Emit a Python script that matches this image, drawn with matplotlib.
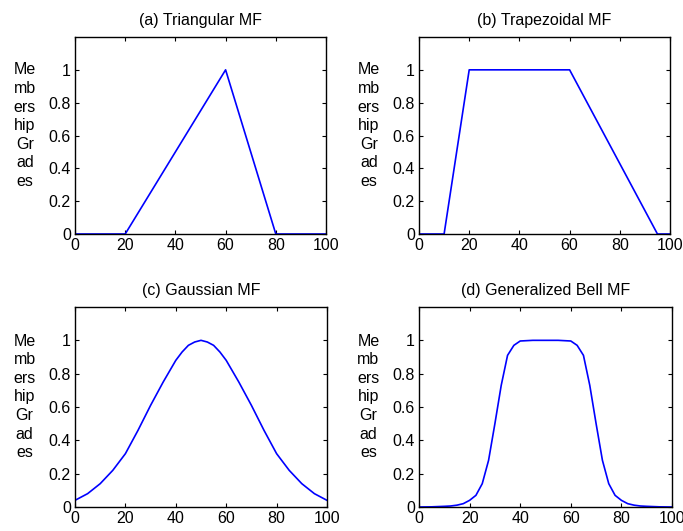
import numpy as np
import matplotlib.pyplot as plt

plt.rcParams['font.family'] = ['Liberation Sans', 'DejaVu Sans']

# membership function samples (x in 0..100)
tri_x = [0, 20, 60, 80, 100]
tri_y = [0, 0, 1, 0, 0]

trap_x = [0, 10, 20, 60, 95, 100]
trap_y = [0, 0, 1, 1, 0, 0]

gauss_x = [0, 5, 10, 15, 20, 25, 30, 35, 40, 42.5, 45, 47.5, 50,
           52.5, 55, 57.5, 60, 65, 70, 75, 80, 85, 90, 95, 100]
gauss_y = [0.04, 0.08, 0.14, 0.22, 0.32, 0.46, 0.61, 0.75, 0.88, 0.93, 0.97, 0.99, 1.0,
           0.99, 0.97, 0.93, 0.88, 0.75, 0.61, 0.46, 0.32, 0.22, 0.14, 0.08, 0.04]

bell_x = [0, 5, 10, 12.5, 15, 17.5, 20, 22.5, 25, 27.5, 30, 32.5, 35, 37.5, 40,
          45, 50, 55, 60, 62.5, 65, 67.5, 70, 72.5, 75, 77.5, 80, 82.5, 85,
          87.5, 90, 95, 100]
bell_y = [0, 0.001, 0.004, 0.006, 0.011, 0.02, 0.04, 0.07, 0.14, 0.28, 0.5,
          0.73, 0.91, 0.97, 0.996, 1, 1, 1, 0.996, 0.97, 0.91, 0.73, 0.5,
          0.28, 0.14, 0.07, 0.04, 0.02, 0.011, 0.006, 0.004, 0.001, 0]

titles = ['(a) Triangular MF', '(b) Trapezoidal MF',
          '(c) Gaussian MF', '(d) Generalized Bell MF']
ylabel = 'Me\nmb\ners\nhip\nGr\nad\nes'

series = [(tri_x, tri_y), (trap_x, trap_y), (gauss_x, gauss_y), (bell_x, bell_y)]

W, H = 683, 531
boxes = [(75, 37, 326, 234), (419, 37, 670, 234),
         (75, 307, 327, 507), (419, 307, 672, 507)]

fig = plt.figure(figsize=(W / 100, H / 100), dpi=100)

for (x0, y0, x1, y1), (xs, ys), title in zip(boxes, series, titles):
    ax = fig.add_axes([x0 / W, (H - y1) / H, (x1 - x0) / W, (y1 - y0) / H])
    ax.plot(xs, ys, color='#0000ff', linewidth=1.2)
    ax.set_xlim(0, 100)
    ax.set_ylim(0, 1.2)
    ax.set_xticks([0, 20, 40, 60, 80, 100])
    ax.set_yticks([0, 0.2, 0.4, 0.6, 0.8, 1])
    ax.set_yticklabels(['0', '0.2', '0.4', '0.6', '0.8', '1'])
    ax.tick_params(direction='in', top=True, right=True, length=3,
                   labelsize=11.5, pad=3)
    for sp in ax.spines.values():
        sp.set_linewidth(1.0)
    ax.set_title(title, fontsize=11.5, pad=9)
    ax.text(-0.2, 0.55, ylabel, transform=ax.transAxes, ha='center',
            va='center', fontsize=11.5, linespacing=1.3)

fig.savefig('out.png', dpi=100)
